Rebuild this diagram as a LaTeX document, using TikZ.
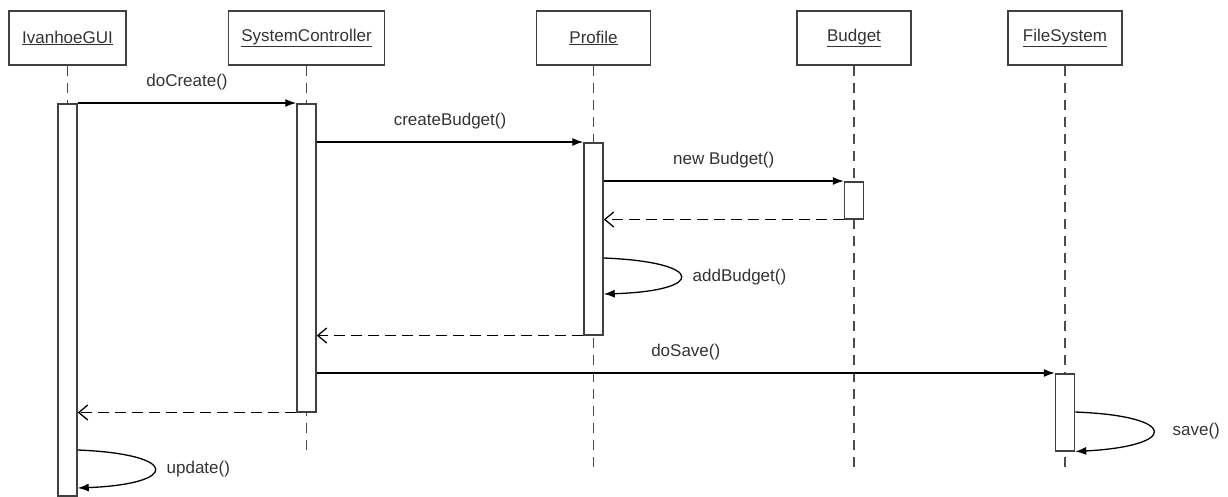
\documentclass[tikz,border=0pt]{standalone}
\usepackage{fontspec}
\setmainfont{Liberation Sans}
\usetikzlibrary{arrows.meta}
\tikzset{
  objbox/.style={draw=black!75, line width=1.8pt, minimum height=54pt, inner sep=0pt,
    font=\fontsize{17}{20}\selectfont, text=black!80},
  actbar/.style={draw=black!75, fill=white, line width=1.5pt, minimum width=19pt, inner sep=0pt},
  lifeline/.style={draw=black!70, line width=1.6pt, dash pattern=on 10pt off 7pt},
  callmsg/.style={line width=1.3pt, -{Latex[length=11pt,width=8pt]}},
  retmsg/.style={line width=1.3pt, dash pattern=on 11pt off 6pt, -{Straight Barb[length=9pt,width=15pt]}},
  msglabel/.style={font=\fontsize{17}{20}\selectfont, text=black!80, inner sep=0pt}
}
\begin{document}
\begin{tikzpicture}[x=1pt,y=-1pt]
\useasboundingbox (0,0) rectangle (1228,496);
% objects
\node[objbox, minimum width=117pt] (gui) at (67.5,38) {\underline{IvanhoeGUI}};
\node[objbox, minimum width=156pt] (ctrl) at (306.5,38) {\underline{SystemController}};
\node[objbox, minimum width=114pt] (prof) at (593.5,38) {\underline{Profile}};
\node[objbox, minimum width=114pt] (budg) at (854,38) {\underline{Budget}};
\node[objbox, minimum width=114pt] (fs) at (1065,38) {\underline{FileSystem}};
% lifelines
\coordinate (guiend) at (67.5,110);
\coordinate (ctrlend) at (306.5,455);
\coordinate (profend) at (593.5,467);
\coordinate (budgend) at (854,467);
\coordinate (fsend) at (1065,467);
\foreach \n in {gui,ctrl,prof,budg,fs}
\draw[lifeline] (\n.south) -- (\n end);
% activations
\node[actbar, minimum height=392pt, anchor=north] (guiact) at (67.5,103) {};
\node[actbar, minimum height=308pt, anchor=north] (ctrlact) at (306.5,103) {};
\node[actbar, minimum height=192pt, anchor=north] (profact) at (593.5,142) {};
\node[actbar, minimum height=37pt, anchor=north] (budgact) at (854,181) {};
\node[actbar, minimum height=77pt, anchor=north] (fsact) at (1065,373) {};
% messages
\draw[callmsg] (guiact.east |- ctrlact.north) -- (ctrlact.north west)
  node[msglabel, midway, above=12pt] {doCreate()};
\draw[callmsg] (ctrlact.east |- profact.north) -- (profact.north west)
  node[msglabel, midway, above=12pt] {createBudget()};
\draw[callmsg] (profact.east |- budgact.north) -- (budgact.north west)
  node[msglabel, midway, above=12pt] {new Budget()};
\draw[retmsg] (budgact.south west) -- (profact.east |- budgact.south);
\draw[callmsg] (profact.east |- 0,258) .. controls (706,262) and (706,291) .. (profact.east |- 0,294)
  node[msglabel, right=10pt] at (682,277) {addBudget()};
\draw[retmsg] (profact.south west) -- (ctrlact.east |- profact.south);
\draw[callmsg] (ctrlact.east |- fsact.north) -- (fsact.north west)
  node[msglabel, pos=0.5, above=12pt] {doSave()};
\draw[retmsg] (ctrlact.south west) -- (guiact.east |- ctrlact.south);
\draw[callmsg] (fsact.east |- 0,412) .. controls (1179,416) and (1179,446) .. (fsact.south east)
  node[msglabel, right=19pt] at (1153,431) {save()};
\draw[callmsg] (guiact.east |- 0,450) .. controls (180,454) and (180,484) .. (guiact.east |- 0,488)
  node[msglabel, right=12pt] at (154,469) {update()};
\end{tikzpicture}
\end{document}
